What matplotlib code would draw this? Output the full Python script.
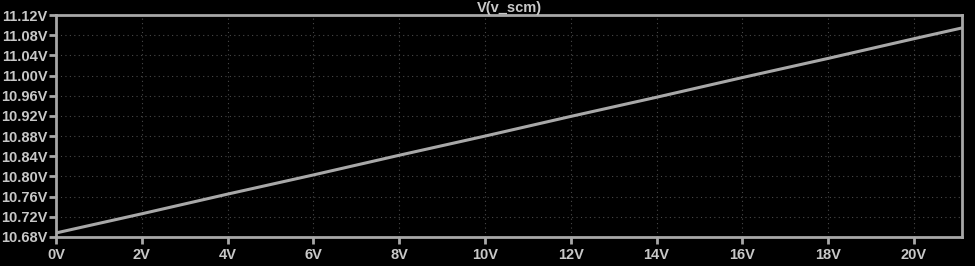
import matplotlib
matplotlib.use("Agg")
import matplotlib.pyplot as plt
import numpy as np
from matplotlib.ticker import FuncFormatter

# sweep values (V)
vin = [0, 2, 4, 6, 8, 10, 12, 14, 16, 18, 20, 21.1]
v_scm = [10.688, 10.726, 10.765, 10.803, 10.842, 10.880, 10.919, 10.957, 10.996, 11.034, 11.073, 11.094]
title = "V(v_scm)"

fg = "#a8a8a8"
txt = "#c8c8c8"

fig = plt.figure(figsize=(9.75, 2.66), dpi=100, facecolor="black")
ax = fig.add_axes([56/975, 1-237/266, (962-56)/975, (237-15)/266])
ax.set_facecolor("black")

ax.plot(vin, v_scm, color=fg, linewidth=2.2)

ax.set_xlim(0, 21.12)
ax.set_ylim(10.68, 11.12)
ax.set_xticks(np.arange(0, 21, 2))
ax.set_yticks(np.arange(10.68, 11.121, 0.04))
ax.xaxis.set_major_formatter(FuncFormatter(lambda v, p: f"{v:.0f}V"))
ax.yaxis.set_major_formatter(FuncFormatter(lambda v, p: f"{v:.2f}V"))

ax.grid(True, color="#484848", linestyle=(0, (1, 3)), linewidth=0.8)
for s in ax.spines.values():
    s.set_color(fg)
    s.set_linewidth(2)
ax.tick_params(colors=fg, labelcolor=txt, length=5, width=2, labelsize=10.5, pad=1)
ax.tick_params(axis="x", pad=3)
for lab in ax.get_xticklabels() + ax.get_yticklabels():
    lab.set_fontweight("bold")
    lab.set_family("Liberation Sans")

fig.text((56+962)/2/975, 1-1/266, title, color=txt, fontsize=10.5, fontweight="bold",
         family="Liberation Sans", ha="center", va="top")

fig.savefig("out.png", dpi=100, facecolor="black")
